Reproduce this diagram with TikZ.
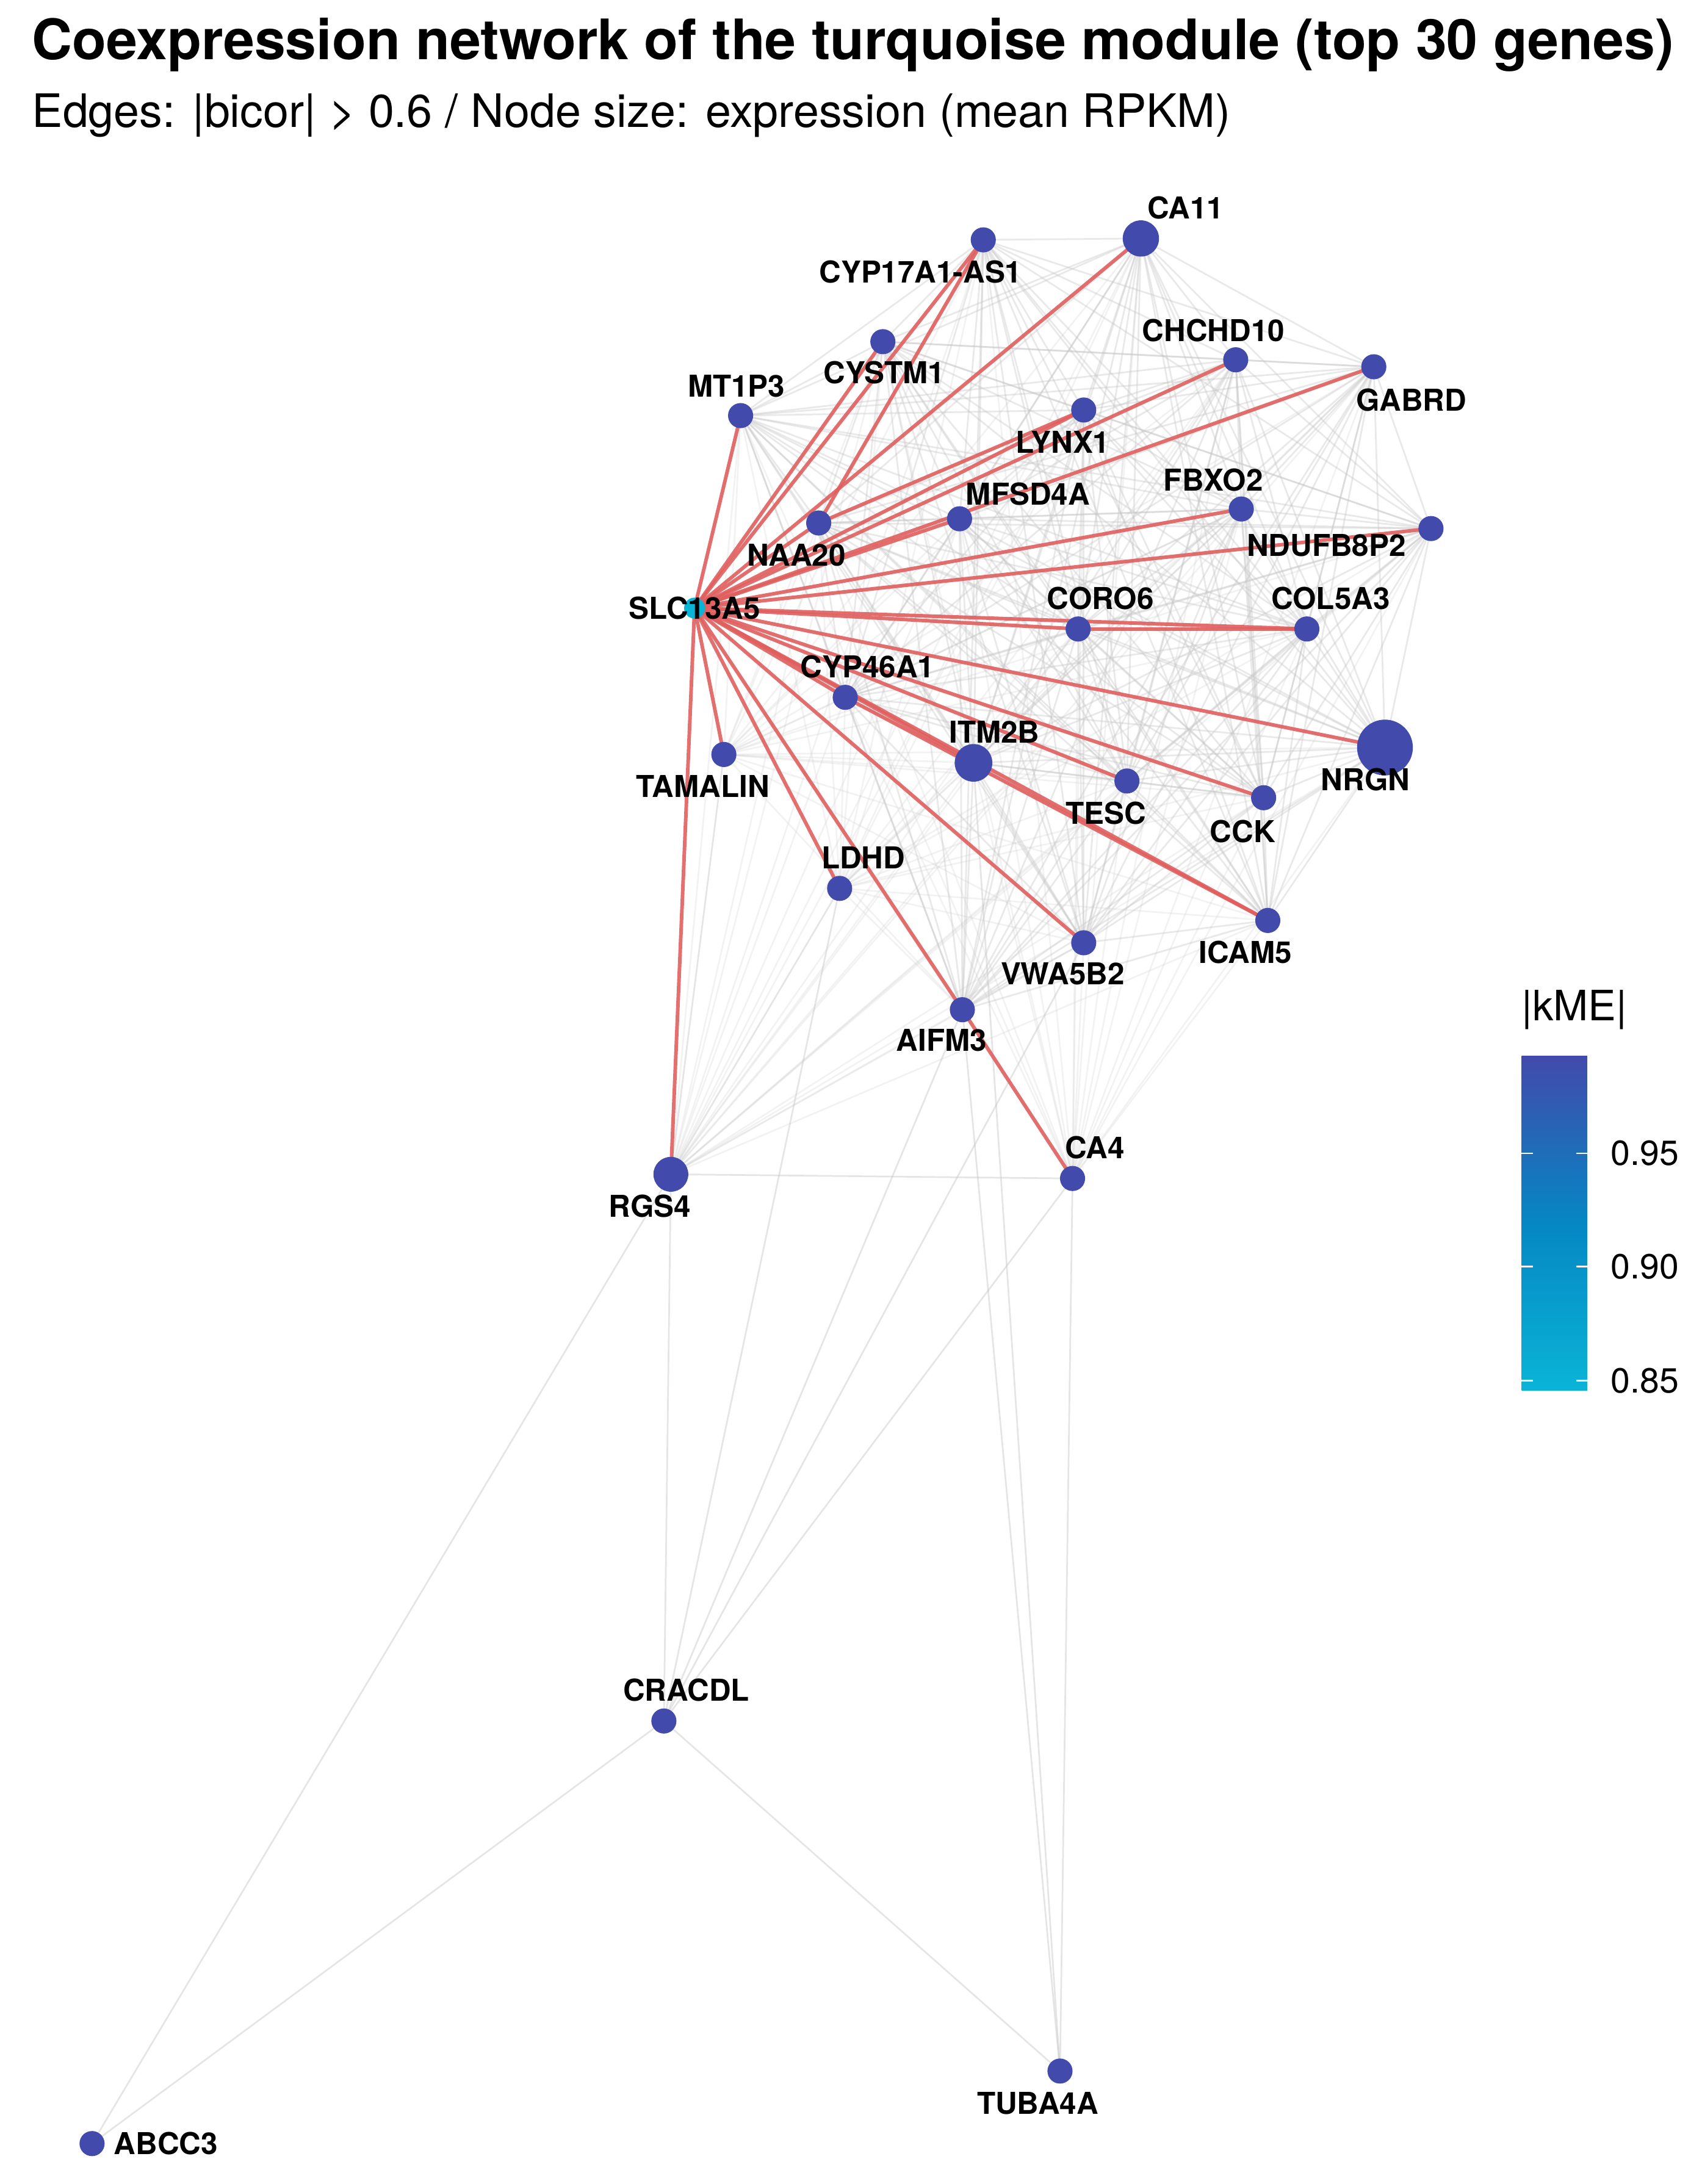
\documentclass[tikz,border=0pt]{standalone}
\usepackage{fontspec}
\setmainfont{TeX Gyre Heros}
\begin{document}
\begin{tikzpicture}[x=0.5pt,y=-0.5pt]
\definecolor{nodeblue}{RGB}{66,74,172}
\definecolor{slc}{RGB}{10,180,215}
\definecolor{midc}{RGB}{5,135,195}
\definecolor{redge}{RGB}{225,95,95}
\tikzset{
 gene/.style={circle,fill=nodeblue,inner sep=0pt,minimum size=9pt},
 lbl/.style={font=\bfseries\fontsize{10.8}{12}\selectfont},
 gedge/.style={draw=gray!45,line width=0.6pt,opacity=0.22},
 redg/.style={draw=redge,line width=1.3pt,opacity=0.9}}
\useasboundingbox (0,0) rectangle (1220,1566);
% positions
\foreach \n/\x/\y in {slc/498/436,ca11/818/171,cyp17/705/172,cystm/633/245,chchd/886/258,gabrd/985/263,mt1p3/531/298,lynx/777/294,mfsd/688/372,fbxo/890/365,naa/587/375,nduf/1026/379,coro/773/451,col5/937/451,cyp46/606/500,itm/698/547,tesc/808/560,nrgn/993/536,cck/906/572,tam/519/541,ldhd/602/637,vwa/777/676,icam/909/660,aifm/690/724,ca4/769/845,rgs/481/842,crac/476/1234,tuba/760/1485,abcc/66/1537}
  \coordinate (\n) at (\x,\y);
% grey edges among cluster
\foreach \a in {slc,ca11,cyp17,cystm,chchd,gabrd,mt1p3,lynx,mfsd,fbxo,naa,nduf,coro,col5,cyp46,itm,tesc,nrgn,cck,tam,ldhd,vwa,icam,aifm,ca4,rgs}
 \foreach \b in {ca11,cyp17,cystm,chchd,gabrd,mt1p3,lynx,mfsd,fbxo,naa,nduf,coro,col5,cyp46,itm,tesc,nrgn,cck,icam,vwa,aifm}
  \path[gedge] (\a) -- (\b);
\foreach \a/\b in {rgs/crac,rgs/abcc,crac/abcc,crac/tuba,ca4/crac,ca4/tuba,rgs/ca4,aifm/crac,ldhd/crac,aifm/tuba,itm/tuba,vwa/crac,tam/rgs,ldhd/rgs}
  \path[gedge,opacity=0.45] (\a) -- (\b);
% red edges
\foreach \b in {ca11,cyp17,cystm,mt1p3,chchd,gabrd,lynx,naa,mfsd,fbxo,nduf,coro,col5,cyp46,nrgn,cck,itm,tesc,tam,ldhd,vwa,aifm,icam,rgs}
  \path[redg] (slc) -- (\b);
\foreach \a/\b in {aifm/ca4,cyp17/naa,cyp46/icam,coro/col5,naa/lynx}
  \path[redg] (\a) -- (\b);
% nodes
\foreach \n in {cyp17,cystm,chchd,gabrd,mt1p3,lynx,mfsd,fbxo,naa,nduf,coro,col5,cyp46,tesc,cck,tam,ldhd,vwa,icam,aifm,ca4,crac,tuba,abcc}
  \node[gene] (n\n) at (\n) {};
\node[gene,minimum size=13pt] (nca11) at (ca11) {};
\node[gene,minimum size=13.5pt] (nitm) at (itm) {};
\node[gene,minimum size=20pt] (nnrgn) at (nrgn) {};
\node[gene,minimum size=12.5pt] (nrgs) at (rgs) {};
\node[gene,fill=slc,minimum size=7.5pt] (nslc) at (slc) {};
% labels
\foreach \t/\x/\y in {SLC13A5/498/436,CA11/850/149,CYP17A1-AS1/660/195,CYSTM1/634/267,CHCHD10/870/237,GABRD/1012/287,MT1P3/528/277,LYNX1/762/317,MFSD4A/737/354,FBXO2/870/344,NAA20/571/398,NDUFB8P2/951/391,CORO6/789/429,COL5A3/954/429,CYP46A1/622/478,ITM2B/713/525,TESC/793/583,NRGN/979/559,CCK/891/596,TAMALIN/504/564,LDHD/619/615,VWA5B2/762/698,ICAM5/893/683,AIFM3/675/746,CA4/785/823,RGS4/466/865,CRACDL/492/1212,TUBA4A/744/1508,ABCC3/119/1537}
  \node[lbl] (l\t) at (\x,\y) {\t};
% title
\node[anchor=west,font=\bfseries\fontsize{20}{24}\selectfont] (title) at (16,32) {Coexpression network of the turquoise module (top 30 genes)};
\node[anchor=west,font=\fontsize{16.5}{20}\selectfont] (sub) at (16,83) {Edges: |bicor| > 0.6 / Node size: expression (mean RPKM)};
% legend
\node[anchor=west,font=\fontsize{15}{18}\selectfont] (ltitle) at (1084,724) {|kME|};
\shade[top color=nodeblue,bottom color=slc,middle color=midc] (1091,757) rectangle (1138,997);
\foreach \v/\y in {0.95/827,0.90/908,0.85/990}{
  \draw[white,line width=0.6pt] (1091,\y) -- (1099,\y) (1130,\y) -- (1138,\y);
  \node[anchor=west,font=\fontsize{12.5}{14}\selectfont] (t\v) at (1148,\y) {\v};}
\end{tikzpicture}
\end{document}
